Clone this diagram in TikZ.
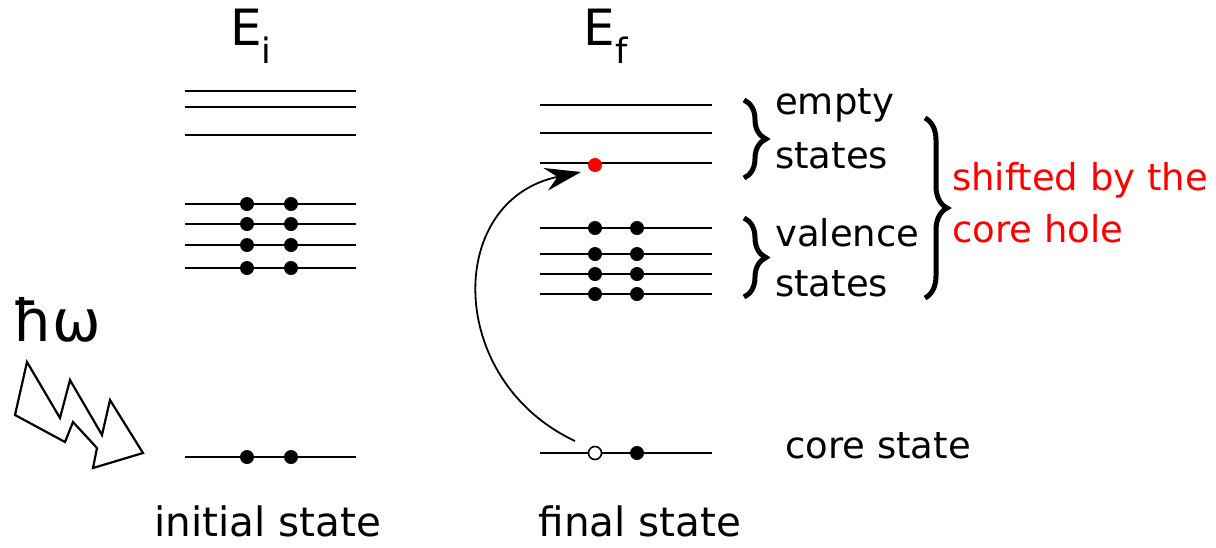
\documentclass[tikz,border=0pt]{standalone}
\usepackage{fontspec}
\setmainfont{DejaVu Sans}
\usetikzlibrary{arrows.meta,decorations.pathreplacing}
\tikzset{
  level/.style={line width=1.8pt},
  elec/.style={circle,fill=black,inner sep=0pt,minimum size=14pt},
  hole/.style={circle,draw=black,fill=white,line width=1.6pt,inner sep=0pt,minimum size=13pt},
  lbl/.style={font=\fontsize{37}{40}\selectfont,inner sep=0pt,align=left},
  bot/.style={font=\fontsize{40.5}{44}\selectfont,inner sep=0pt},
  bigbrace/.style={decorate,decoration={brace,amplitude=22pt},line width=5pt}
}
\begin{document}
\begin{tikzpicture}[x=1pt,y=-1pt]
  \useasboundingbox (0,0) rectangle (1216,547);

  % initial state levels
  \foreach \yy in {91,107,135,204,224,245,268,457}
    \draw[level] (185,\yy) -- (356,\yy);
  \foreach \yy [count=\i] in {204,224,245,268,457} {
    \node[elec] (ia\i) at (247,\yy) {};
    \node[elec] (ib\i) at (291,\yy) {};
  }

  % final state levels
  \foreach \yy in {105,133,163,228,254,274,294,453}
    \draw[level] (540,\yy) -- (712,\yy);
  \foreach \yy [count=\i] in {228,254,274,294} {
    \node[elec] (fa\i) at (595,\yy) {};
    \node[elec] (fb\i) at (637,\yy) {};
  }
  \node[elec,fill=red] (exc) at (595,165) {};
  \node[hole] (hole) at (595,453) {};
  \node[elec] (core) at (637,453) {};

  % excitation
  \coordinate (tip) at (581,172);
  \draw[line width=1.8pt,-{Stealth[length=36pt,width=23pt,inset=12pt]}]
    (575,441) .. controls (445,380) and (445,200) .. (tip);

  \node[lbl,font=\fontsize{50}{54}\selectfont] (Ei) at (251,36) {E\textsubscript{i}};
  \node[lbl,font=\fontsize{50}{54}\selectfont] (Ef) at (606,36) {E\textsubscript{f}};
  \node[lbl,font=\fontsize{58}{60}\selectfont] (hw) at (57,320) {ħω};
  \node[bot] (init) at (268,521) {initial state};
  \node[bot] (fin) at (640,521) {final state};
  \node[lbl,anchor=west] (cst) at (785,446) {core state};

  % photon
  \draw[line width=2.2pt,line join=miter]
    (27,362) -- (60,418) -- (70,380) -- (102,435) -- (110,400) -- (143,453)
    -- (93,468) -- (97,448) -- (73,422) -- (65,442) -- (15,415) -- cycle;

  % braces
  \draw[bigbrace] (744,100) -- (744,178);
  \draw[bigbrace] (744,218) -- (744,297);
  \draw[bigbrace] (925,118) -- (925,298);
  \node[lbl,anchor=west] (emp) at (775,105) {empty};
  \node[lbl,anchor=west] (emps) at (775,156) {states};
  \node[lbl,anchor=west] (val) at (775,233) {valence};
  \node[lbl,anchor=west] (vals) at (775,284) {states};
  \node[lbl,anchor=west,text=red] (shift) at (952,180) {shifted by the};
  \node[lbl,anchor=west,text=red] (chole) at (952,229) {core hole};
\end{tikzpicture}
\end{document}
